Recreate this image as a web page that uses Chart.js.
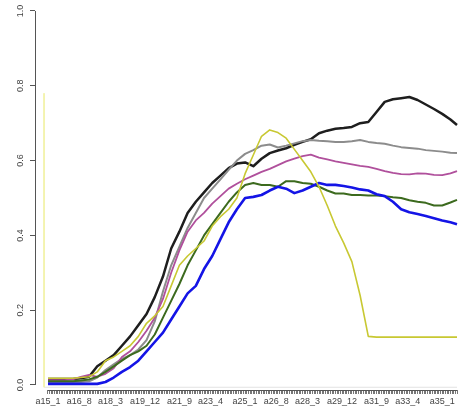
<!DOCTYPE html>
<html>
<head>
<meta charset="utf-8">
<script src="https://cdn.jsdelivr.net/npm/chart.js@4"></script>
<style>
  html, body { margin: 0; padding: 0; background: #fff; }
  #wrap { width: 459px; height: 411px; }
</style>
</head>
<body>
<div id="wrap"><canvas id="chart" width="459" height="411"></canvas></div>
<script>
const months = [0, 5, 10, 15, 20, 25, 30, 35, 40, 45, 50, 55, 60, 65, 70, 75, 80, 85, 90, 95,
  100, 105, 110, 115, 120, 125, 130, 135, 140, 145, 150, 155, 160, 165, 170, 175, 180, 185, 190, 195,
  200, 205, 210, 215, 220, 225, 230, 235, 240, 245, 249];

const blackVals = [0.016, 0.016, 0.016, 0.016, 0.018, 0.022, 0.05, 0.065, 0.08, 0.105, 0.13, 0.16, 0.19, 0.235, 0.29, 0.365, 0.41, 0.46, 0.49, 0.515,
  0.54, 0.56, 0.58, 0.592, 0.595, 0.585, 0.605, 0.62, 0.627, 0.633, 0.642, 0.65, 0.657, 0.673, 0.68, 0.685, 0.687, 0.69, 0.7, 0.703,
  0.73, 0.757, 0.764, 0.767, 0.77, 0.762, 0.75, 0.738, 0.725, 0.71, 0.695];

const grayVals = [0.008, 0.008, 0.008, 0.008, 0.008, 0.01, 0.02, 0.04, 0.055, 0.07, 0.08, 0.095, 0.12, 0.17, 0.25, 0.32, 0.37, 0.42, 0.46, 0.5,
  0.525, 0.55, 0.575, 0.6, 0.618, 0.628, 0.64, 0.643, 0.635, 0.64, 0.646, 0.652, 0.655, 0.653, 0.652, 0.65, 0.65, 0.652, 0.655, 0.65,
  0.647, 0.645, 0.64, 0.636, 0.634, 0.632, 0.628, 0.626, 0.624, 0.621, 0.62];

const magentaVals = [0.013, 0.013, 0.013, 0.015, 0.022, 0.027, 0.022, 0.03, 0.045, 0.075, 0.09, 0.115, 0.145, 0.18, 0.23, 0.3, 0.36, 0.41, 0.44, 0.46,
  0.485, 0.505, 0.525, 0.538, 0.55, 0.56, 0.57, 0.578, 0.588, 0.598, 0.605, 0.612, 0.616, 0.608, 0.603, 0.598, 0.594, 0.59, 0.586, 0.583,
  0.578, 0.572, 0.567, 0.564, 0.563, 0.566, 0.565, 0.562, 0.561, 0.566, 0.572];

const greenVals = [0.01, 0.01, 0.01, 0.01, 0.012, 0.015, 0.022, 0.035, 0.05, 0.065, 0.08, 0.09, 0.105, 0.135, 0.18, 0.225, 0.27, 0.32, 0.36, 0.4,
  0.43, 0.46, 0.49, 0.515, 0.535, 0.54, 0.535, 0.535, 0.53, 0.545, 0.545, 0.54, 0.538, 0.53, 0.52, 0.512, 0.512, 0.508, 0.508, 0.507,
  0.507, 0.505, 0.502, 0.5, 0.494, 0.49, 0.487, 0.48, 0.48, 0.488, 0.495];

const blueVals = [0.003, 0.003, 0.003, 0.003, 0.003, 0.003, 0.003, 0.008, 0.02, 0.035, 0.048, 0.065, 0.09, 0.115, 0.14, 0.175, 0.21, 0.245, 0.265, 0.31,
  0.345, 0.39, 0.435, 0.47, 0.5, 0.503, 0.508, 0.52, 0.53, 0.525, 0.513, 0.52, 0.53, 0.54, 0.535, 0.535, 0.532, 0.528, 0.523, 0.52,
  0.51, 0.505, 0.49, 0.47, 0.462, 0.457, 0.452, 0.446, 0.44, 0.435, 0.43];

const yellowVals = [0.018, 0.018, 0.018, 0.018, 0.02, 0.022, 0.035, 0.065, 0.075, 0.09, 0.105, 0.13, 0.165, 0.185, 0.21, 0.265, 0.32, 0.345, 0.365, 0.385,
  0.425, 0.45, 0.47, 0.5, 0.565, 0.615, 0.665, 0.682, 0.675, 0.66, 0.63, 0.6, 0.57, 0.53, 0.48, 0.425, 0.38, 0.33, 0.24, 0.13,
  0.128, 0.128, 0.128, 0.128, 0.128, 0.128, 0.128, 0.128, 0.128, 0.128, 0.128];

// faint leftover trace: spike at the left edge and pale baseline
const spikeX = [-2.4, -2.4];
const spikeVals = [0.78, -0.006];
const baseX = [-2.4, 249];
const baseVals = [-0.006, -0.006];

const xLabels = ['a15_1', 'a16_8', 'a18_3', 'a19_12', 'a21_9', 'a23_4', 'a25_1',
  'a26_8', 'a28_3', 'a29_12', 'a31_9', 'a33_4', 'a35_1'];
const yTicks = [0, 0.2, 0.4, 0.6, 0.8, 1.0];
const lastMonth = 249;

function monthIndex(label) {
  const [y, m] = label.slice(1).split('_').map(Number);
  return (y - 15) * 12 + (m - 1);
}
const labelAt = {};
xLabels.forEach(l => { labelAt[monthIndex(l)] = l; });

function series(xs, ys) {
  return xs.map((x, i) => ({ x: x, y: ys[i] }));
}

// R style axes: lines only span the data / tick range
const rAxes = {
  id: 'rAxes',
  afterDraw(chart) {
    const ctx = chart.ctx;
    const xs = chart.scales.x, ys = chart.scales.y;
    ctx.save();
    ctx.strokeStyle = '#555';
    ctx.lineWidth = 1;
    ctx.beginPath();
    const ax = Math.round(chart.chartArea.left) + 0.5;
    ctx.moveTo(ax, ys.getPixelForValue(yTicks[0]));
    ctx.lineTo(ax, ys.getPixelForValue(yTicks[yTicks.length - 1]));
    const by = Math.round(chart.chartArea.bottom) + 0.5;
    ctx.moveTo(xs.getPixelForValue(0), by);
    ctx.lineTo(xs.getPixelForValue(lastMonth), by);
    ctx.stroke();

    ctx.fillStyle = '#444';
    ctx.font = '9px "Liberation Sans", Arial, sans-serif';
    ctx.textAlign = 'center';
    ctx.textBaseline = 'middle';
    yTicks.forEach(v => {
      ctx.save();
      ctx.translate(21, ys.getPixelForValue(v));
      ctx.rotate(-Math.PI / 2);
      ctx.fillText(v.toFixed(1), 0, 0);
      ctx.restore();
    });
    ctx.restore();
  }
};

const ctx = document.getElementById('chart').getContext('2d');
new Chart(ctx, {
  type: 'line',
  data: {
    datasets: [
      { label: 'yellow', data: series(months, yellowVals), borderColor: '#c8c832', borderWidth: 1.6 },
      { label: 'blue', data: series(months, blueVals), borderColor: '#1414e6', borderWidth: 2.6 },
      { label: 'green', data: series(months, greenVals), borderColor: '#3c6a1e', borderWidth: 2 },
      { label: 'magenta', data: series(months, magentaVals), borderColor: '#b0509c', borderWidth: 1.8 },
      { label: 'gray', data: series(months, grayVals), borderColor: '#8c8c8c', borderWidth: 2 },
      { label: 'black', data: series(months, blackVals), borderColor: '#1e1e1e', borderWidth: 2.5 },
      { label: 'spike', data: series(spikeX, spikeVals), borderColor: '#f2f2a8', borderWidth: 1 },
      { label: 'base', data: series(baseX, baseVals), borderColor: '#e2e2e2', borderWidth: 1 }
    ]
  },
  options: {
    responsive: false,
    animation: false,
    events: [],
    layout: { padding: 0 },
    elements: { point: { radius: 0 }, line: { tension: 0, borderJoinStyle: 'round' } },
    plugins: { legend: { display: false }, tooltip: { enabled: false } },
    scales: {
      x: {
        type: 'linear',
        min: -7.9,
        max: 249.7,
        afterFit(scale) { scale.height = 21; },
        afterBuildTicks(scale) {
          const t = [];
          for (let m = 0; m <= lastMonth; m++) t.push({ value: m });
          scale.ticks = t;
        },
        border: { display: false },
        grid: { drawOnChartArea: false, drawTicks: true, tickLength: 4, color: '#777', lineWidth: 1 },
        ticks: {
          autoSkip: false,
          maxRotation: 0,
          minRotation: 0,
          padding: 2,
          color: '#444',
          font: { size: 9, family: '"Liberation Sans", Arial, sans-serif' },
          callback: v => labelAt[v] || ''
        }
      },
      y: {
        type: 'linear',
        min: -0.01337,
        max: 1.0294,
        afterFit(scale) { scale.width = 35; },
        afterBuildTicks(scale) { scale.ticks = yTicks.map(v => ({ value: v })); },
        border: { display: false },
        grid: { drawOnChartArea: false, drawTicks: true, tickLength: 5, color: '#555' },
        ticks: { display: false }
      }
    }
  },
  plugins: [rAxes]
});
</script>
</body>
</html>
